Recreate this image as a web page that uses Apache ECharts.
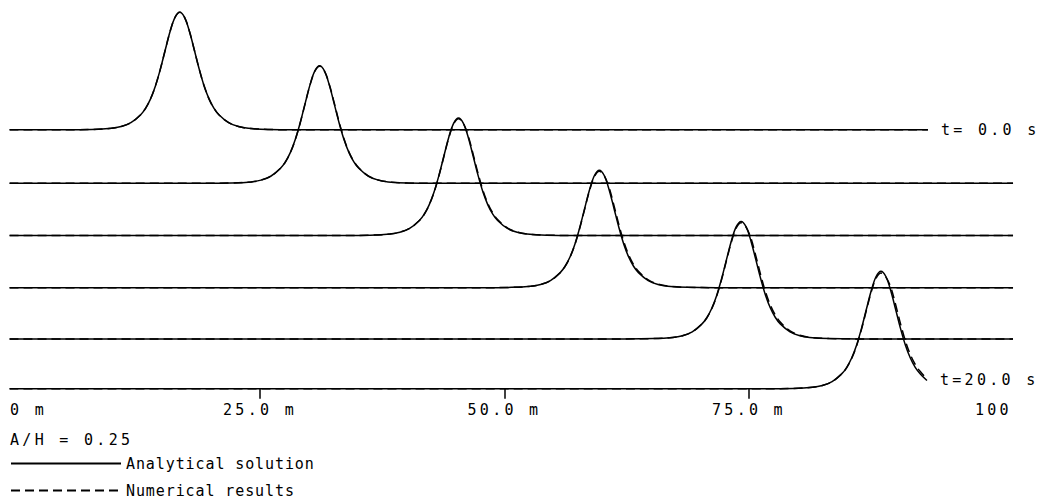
<!DOCTYPE html>
<html><head><meta charset="utf-8">
<script src="https://cdn.jsdelivr.net/npm/echarts@6/dist/echarts.min.js"></script>
<style>
html,body{margin:0;padding:0;background:#fff;}
#c{width:1046px;height:500px;}
#c text[style*="spacedW"]{letter-spacing:3.3px;}
#c text[style*="spacedN"]{letter-spacing:0.9px;}
</style></head><body><div id="c"></div>
<script>
// ---- data ----
const timeLabels = ['t= 0.0 s', 't= 4.0 s', 't= 8.0 s', 't=12.0 s', 't=16.0 s', 't=20.0 s'];
const showTimeLabel = [true, false, false, false, false, true];
const tickValues = [0, 25, 50, 75, 100];
const tickLabels = ['0 m', '25.0 m', '50.0 m', '75.0 m', '100'];
const tickMarks = [25, 50, 75];
const paramLabel = 'A/H = 0.25';
const legendNames = ['Analytical solution', 'Numerical results'];

// crest position (m) of each trace, vertical offset of each trace (eta/H units)
const crestX = [16.8, 31.1, 45.3, 59.7, 74.2, 88.5];
const traceOffset = [0.551, 0.437, 0.326, 0.215, 0.106, 0];
const traceStart = -0.6;
const traceEnd = [93.3, 102, 102, 102, 102, 93.2];
const traceEndEtaAnalytical = [0, 0, 0, 0, 0, 0.0175];
const traceEndEtaNumerical = [0, 0, 0, 0, 0, 0.021];

// sample positions relative to crest (m)
const dxFromCrest = [-12, -9, -7, -6, -5, -4, -3.5, -3, -2.5, -2, -1.5, -1, -0.5, 0, 0.5, 1, 1.5, 2, 2.5, 3, 3.5, 4, 5, 6, 7, 9, 12];
// surface elevation eta/H, analytical solitary wave
const analyticalEta = [0, 0.0006, 0.003, 0.0068, 0.015, 0.032, 0.0455, 0.0652, 0.0925, 0.1279, 0.1685, 0.2084, 0.2387, 0.25, 0.2387, 0.2084, 0.1685, 0.1279, 0.0925, 0.0652, 0.0455, 0.032, 0.015, 0.0068, 0.003, 0.0006, 0];
// numerical results per trace
const numericalEta = [
  [0, 0.0006, 0.003, 0.0068, 0.015, 0.032, 0.0455, 0.0652, 0.0925, 0.1279, 0.1685, 0.2084, 0.2387, 0.25, 0.2387, 0.2084, 0.1685, 0.1279, 0.0925, 0.0652, 0.0455, 0.032, 0.015, 0.0068, 0.003, 0.0006, 0],
  [0, 0.0006, 0.003, 0.0068, 0.0149, 0.0319, 0.0453, 0.0650, 0.0922, 0.1274, 0.1680, 0.2078, 0.2380, 0.2492, 0.2384, 0.2099, 0.1705, 0.1299, 0.0943, 0.0667, 0.0467, 0.0330, 0.0155, 0.0070, 0.0031, 0.0006, 0],
  [0, 0.0006, 0.003, 0.0068, 0.0149, 0.0318, 0.0452, 0.0648, 0.0919, 0.1270, 0.1676, 0.2072, 0.2373, 0.2485, 0.2382, 0.2114, 0.1725, 0.1319, 0.0960, 0.0682, 0.0480, 0.0340, 0.0160, 0.0073, 0.0032, 0.0006, 0],
  [0, 0.0006, 0.003, 0.0068, 0.0148, 0.0317, 0.0451, 0.0646, 0.0916, 0.1266, 0.1672, 0.2066, 0.2366, 0.2478, 0.2380, 0.2129, 0.1745, 0.1339, 0.0978, 0.0697, 0.0492, 0.0350, 0.0165, 0.0075, 0.0033, 0.0006, 0],
  [0, 0.0006, 0.003, 0.0068, 0.0148, 0.0316, 0.0449, 0.0644, 0.0913, 0.1261, 0.1667, 0.2060, 0.2359, 0.2470, 0.2377, 0.2144, 0.1765, 0.1359, 0.0995, 0.0712, 0.0505, 0.0360, 0.0170, 0.0078, 0.0034, 0.0006, 0],
  [0, 0.0006, 0.003, 0.0068, 0.0148, 0.0315, 0.0448, 0.0642, 0.0910, 0.1257, 0.1663, 0.2054, 0.2352, 0.2463, 0.2375, 0.2159, 0.1785, 0.1379, 0.1013, 0.0727, 0.0517, 0.0370, 0.0175, 0.0080, 0.0035, 0.0006, 0]
];

// ---- build ----
const FW = 'DejaVu Sans Mono, spacedW, monospace';
const FN = 'DejaVu Sans Mono, spacedN, monospace';

function buildTrace(k, etas, endEta) {
  const pts = [[traceStart, traceOffset[k]]];
  dxFromCrest.forEach((dx, i) => {
    const x = crestX[k] + dx;
    if (x > traceStart && x < traceEnd[k]) pts.push([x, traceOffset[k] + etas[i]]);
  });
  pts.push([traceEnd[k], traceOffset[k] + endEta]);
  return pts;
}

const series = [];
for (let k = 0; k < crestX.length; k++) {
  series.push({
    type: 'line', name: legendNames[1],
    data: buildTrace(k, numericalEta[k], traceEndEtaNumerical[k]),
    symbol: 'none', showSymbol: false, clip: false, smooth: 0.35,
    color: '#000',
    lineStyle: { color: '#000', width: 1.5, type: [9, 5] },
    silent: true, emphasis: { disabled: true }, z: 2
  });
}
for (let k = 0; k < crestX.length; k++) {
  series.push({
    type: 'line', name: legendNames[0],
    data: buildTrace(k, analyticalEta, traceEndEtaAnalytical[k]),
    symbol: 'none', showSymbol: false, clip: false, smooth: 0.35,
    color: '#000',
    lineStyle: { color: '#000', width: 1.5 },
    endLabel: {
      show: showTimeLabel[k], formatter: timeLabels[k], distance: 13,
      fontFamily: FW, fontSize: 15, color: '#000'
    },
    silent: true, emphasis: { disabled: true }, z: 3
  });
}

const chart = echarts.init(document.getElementById('c'), null, { renderer: 'svg' });
chart.setOption({
  backgroundColor: '#fff',
  animation: false,
  textStyle: { fontFamily: FW, color: '#000' },
  title: {
    text: paramLabel, left: 10, top: 432, padding: 0,
    textStyle: { fontFamily: FW, fontSize: 15, fontWeight: 'normal', color: '#000' }
  },
  legend: {
    orient: 'vertical', left: 10, top: 456, padding: 0,
    itemWidth: 110, itemHeight: 14, itemGap: 12, selectedMode: false,
    data: legendNames,
    itemStyle: { color: 'rgba(0,0,0,0)', borderWidth: 0, opacity: 0 },
    textStyle: { fontFamily: FN, fontSize: 15, color: '#000' }
  },
  grid: { left: 5.7, right: 23.2, top: 8.0, bottom: 111.3, containLabel: false, outerBoundsMode: 'none' },
  xAxis: {
    type: 'value', min: -1, max: 103,
    axisLine: { show: false, onZero: false },
    axisTick: { show: true, customValues: tickMarks, length: 10, lineStyle: { color: '#000', width: 1.5 } },
    axisLabel: {
      customValues: tickValues, margin: 14, color: '#000', fontFamily: FW, fontSize: 15,
      hideOverlap: false,
      formatter: function (v) {
        const i = tickValues.indexOf(v);
        return i === 0 ? '{z|' + tickLabels[0] + '}' : tickLabels[i];
      },
      rich: { z: { padding: [0, 0, 0, 26], fontFamily: FW, fontSize: 15, color: '#000' } }
    },
    splitLine: { show: false }
  },
  yAxis: { type: 'value', min: 0, max: 0.81, show: false },
  series: series
});
</script></body></html>
